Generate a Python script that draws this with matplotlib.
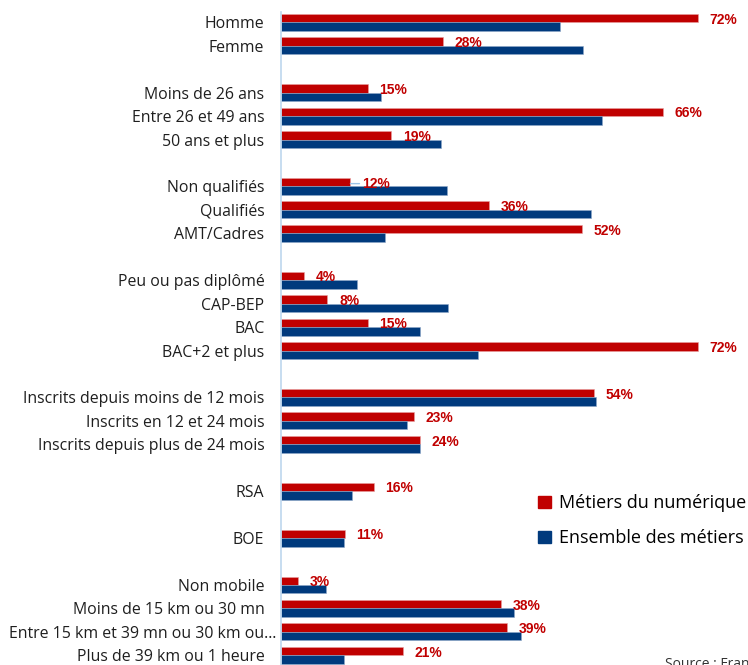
import matplotlib
matplotlib.use("Agg")
import matplotlib.pyplot as plt
import matplotlib.transforms as mtransforms
from matplotlib.patches import Patch

# rows grouped as in the source chart (blank row between groups)
groups = [
    ["Homme", "Femme"],
    ["Moins de 26 ans", "Entre 26 et 49 ans", "50 ans et plus"],
    ["Non qualifiés", "Qualifiés", "AMT/Cadres"],
    ["Peu ou pas diplômé", "CAP-BEP", "BAC", "BAC+2 et plus"],
    ["Inscrits depuis moins de 12 mois", "Inscrits en 12 et 24 mois",
     "Inscrits depuis plus de 24 mois"],
    ["RSA"],
    ["BOE"],
    ["Non mobile", "Moins de 15 km ou 30 mn", "Entre 15 km et 39 mn ou 30 km ou…",
     "Plus de 39 km ou 1 heure"],
]
numerique = [
    [72, 28],
    [15, 66, 19],
    [12, 36, 52],
    [4, 8, 15, 72],
    [54, 23, 24],
    [16],
    [11],
    [3, 38, 39, 21],
]
ensemble = [
    [48.2, 52.1],
    [17.2, 55.4, 27.6],
    [28.7, 53.5, 18.0],
    [13.2, 28.9, 24.1, 34.0],
    [54.5, 21.7, 24.1],
    [12.2],
    [10.8],
    [7.7, 40.3, 41.5, 10.8],
]
series_names = ["Métiers du numérique", "Ensemble des métiers"]

RED = "#C00000"
BLUE = "#003A7D"

labels, ys, red_vals, blue_vals = [], [], [], []
row = 0
for g, cats in enumerate(groups):
    for i, c in enumerate(cats):
        labels.append(c)
        ys.append(row)
        red_vals.append(numerique[g][i])
        blue_vals.append(ensemble[g][i])
        row += 1
    row += 1  # gap

W, H = 748, 665
fig = plt.figure(figsize=(W / 100, H / 100), dpi=100)
ax = fig.add_axes([281 / W, 0, 463 / W, 653 / H])

bh = 0.36
ax.barh([y - bh / 2 for y in ys], red_vals, height=bh, color=RED,
        edgecolor="#e8a0a0", linewidth=0.4)
ax.barh([y + bh / 2 for y in ys], blue_vals, height=bh, color=BLUE,
        edgecolor="#8fa8c8", linewidth=0.4)

for y, v in zip(ys, red_vals):
    kw = {}
    if v == 12:
        kw = dict(arrowprops=dict(arrowstyle="-", color="#9DC3E6", lw=1,
                                  shrinkA=0, shrinkB=0))
    ax.annotate(f"{v}%", xy=(v, y - bh / 2 + 0.06), xytext=(8.5, 0),
                textcoords="offset points", va="center", ha="left",
                color=RED, fontsize=10, fontweight="bold",
                family="Liberation Sans", **kw)

ax.set_xlim(0, 80)
ax.set_ylim(27.41, -0.44)
ax.set_yticks(ys)
ax.set_yticklabels(labels, family="Open Sans", fontsize=11.4, color="#1e1e1e")
ax.tick_params(axis="y", length=0, pad=12)
ax.set_xticks([])
for s in ["top", "right", "bottom"]:
    ax.spines[s].set_visible(False)
ax.spines["left"].set_color("#BDD7EE")
ax.spines["left"].set_linewidth(1.2)

# the long truncated label overhangs towards the axis, as in the source
for t in ax.get_yticklabels():
    if t.get_text().endswith("…"):
        t.set_transform(t.get_transform() +
                        mtransforms.ScaledTranslation(12 / 100, 0, fig.dpi_scale_trans))

handles = [Patch(color=RED), Patch(color=BLUE)]
fig.legend(handles, series_names, loc="upper left",
           bbox_to_anchor=(522 / W, 1 - 478 / H), frameon=False,
           prop={"family": "Open Sans", "size": 13}, handlelength=0.7,
           handleheight=0.7, handletextpad=0.45, labelspacing=0.95)

fig.text(665 / W, 1 - 657 / H, "Source : France Travail", family="Open Sans",
         fontsize=10, color="#333333", va="top", ha="left")

fig.savefig("out.png", dpi=100, facecolor="white")
